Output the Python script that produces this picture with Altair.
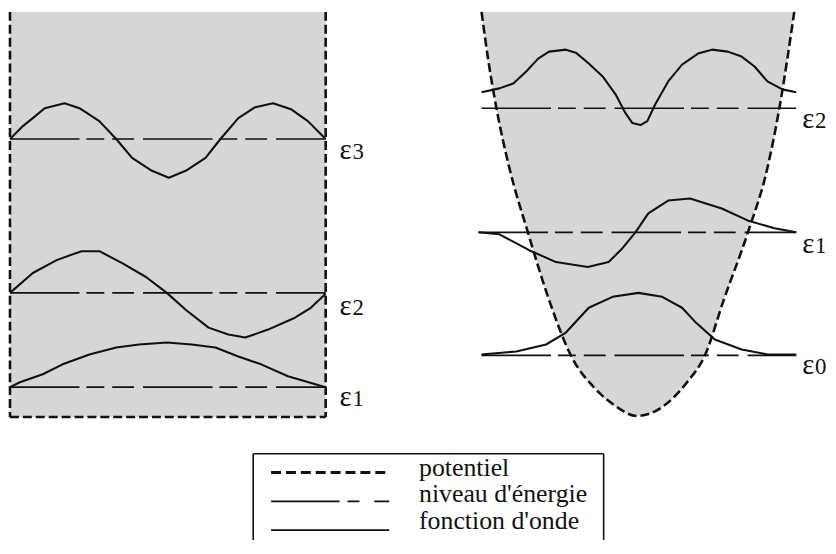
import altair as alt
import pandas as pd

# ---------------- data (figure units) ----------------
# Left panel: infinite square well
well_left, well_right, well_top, well_bottom = 10, 328, 10, 418
well_levels = [388, 293, 138]          # ε1, ε2, ε3
well_level_names = ["1", "2", "3"]

psi3_x = [10, 23, 33, 45, 65, 80, 100, 117, 133, 153, 170, 187, 207, 222, 240, 257, 275, 293, 310, 328]
psi3_y = [138, 125, 117, 107, 102, 107, 120, 138, 157, 170, 177, 170, 157, 138, 117, 106, 102, 108, 120, 138]

psi2_x = [10, 33, 57, 82, 100, 123, 147, 168, 187, 210, 230, 247, 270, 297, 313, 328]
psi2_y = [293, 273, 260, 251, 251, 263, 277, 293, 310, 328, 335, 338, 330, 318, 308, 294]

psi1_x = [10, 20, 43, 63, 90, 117, 140, 168, 193, 217, 240, 263, 290, 328]
psi1_y = [388, 383, 375, 365, 355, 348, 345, 343, 345, 348, 357, 365, 377, 388]

# Right panel: harmonic oscillator
pot_x = [485, 492, 500, 513, 532, 553, 575, 600, 620, 641, 667, 692, 710, 729, 753, 773, 785, 800]
pot_y = [10, 60, 107, 167, 233, 300, 356, 390, 407, 417, 408, 383, 356, 300, 233, 167, 107, 10]

osc_levels = [356, 232, 107]           # ε0, ε1, ε2
osc_level_x0 = [485, 482, 485]
osc_level_x1 = [802, 802, 802]
osc_level_names = ["0", "1", "2"]

phi2_x = [485, 503, 517, 530, 542, 553, 570, 580, 593, 607, 620, 630, 637, 645, 652, 660, 673, 687, 703, 717, 733, 747, 760, 773, 788, 802]
phi2_y = [91, 87, 82, 70, 57, 50, 48, 51, 62, 75, 93, 112, 122, 124, 120, 103, 80, 63, 52, 48, 50, 55, 65, 80, 88, 91]

phi1_x = [482, 503, 533, 560, 592, 613, 627, 640, 653, 673, 695, 727, 753, 780, 802]
phi1_y = [232, 234, 250, 262, 267, 262, 248, 232, 213, 200, 198, 208, 220, 228, 232]

phi0_x = [485, 520, 550, 570, 593, 617, 643, 667, 687, 700, 720, 747, 773, 802]
phi0_y = [355, 352, 345, 333, 308, 297, 293, 297, 308, 322, 340, 350, 355, 355]

# Legend
legend_labels = ["potentiel", "niveau d'énergie", "fonction d'onde"]
legend_rows_y = [474, 503, 532]
legend_text_base = [477, 504, 531]
legend_sample_x = [273, 392]
legend_text_x = 422
legend_box = dict(left=255, right=608, top=455, bottom=542)

# ---------------- scales ----------------
XS = alt.Scale(domain=[8, 834], nice=False, zero=False)
YS = alt.Scale(domain=[8, 542], nice=False, zero=False, reverse=True)

def X(f="x"):
    return alt.X(f"{f}:Q", scale=XS, axis=None)

def Y(f="y"):
    return alt.Y(f"{f}:Q", scale=YS, axis=None)

BLACK = "#111111"
GRAY = "#d6d6d6"
SERIF = "'Liberation Serif', 'Times New Roman', Times, 'DejaVu Serif', serif"

layers = []

# gray fill of the square well
well_df = pd.DataFrame({"x": [well_left], "x2": [well_right], "y": [well_top], "y2": [well_bottom]})
layers.append(alt.Chart(well_df).mark_rect(color=GRAY).encode(
    x=X(), x2="x2:Q", y=Y(), y2="y2:Q"))

# gray fill inside the parabola
pot_df = pd.DataFrame({"x": pot_x, "y": pot_y, "top": [well_top] * len(pot_x)})
layers.append(alt.Chart(pot_df).mark_area(color=GRAY, interpolate="monotone").encode(
    x=X(), y=Y(), y2="top:Q"))

# square well walls (dashed)
walls_df = pd.DataFrame({
    "x": [well_left, well_right, well_left],
    "x2": [well_left, well_right, well_right],
    "y": [well_top, well_top, well_bottom],
    "y2": [well_bottom, well_bottom, well_bottom],
})
layers.append(alt.Chart(walls_df).mark_rule(color=BLACK, strokeWidth=2.6, strokeDash=[9, 4]).encode(
    x=X(), x2="x2:Q", y=Y(), y2="y2:Q"))

# parabola (dashed)
layers.append(alt.Chart(pot_df).mark_line(color=BLACK, strokeWidth=2.6, strokeDash=[9, 4],
                                           interpolate="monotone").encode(x=X(), y=Y()))

# energy levels
lev_df = pd.DataFrame({
    "x": [well_left] * 3 + osc_level_x0,
    "x2": [well_right] * 3 + osc_level_x1,
    "y": well_levels + osc_levels,
})
layers.append(alt.Chart(lev_df).mark_rule(color=BLACK, strokeWidth=1.7,
                                          strokeDash=[70, 7, 18, 8, 22, 9]).encode(
    x=X(), x2="x2:Q", y=Y()))

# wave functions
rows = []
for name, xs, ys in [("psi1", psi1_x, psi1_y), ("psi2", psi2_x, psi2_y), ("psi3", psi3_x, psi3_y),
                     ("phi0", phi0_x, phi0_y), ("phi1", phi1_x, phi1_y), ("phi2", phi2_x, phi2_y)]:
    for i, (a, b) in enumerate(zip(xs, ys)):
        rows.append({"curve": name, "x": a, "y": b, "i": i})
wave_df = pd.DataFrame(rows)
layers.append(alt.Chart(wave_df).mark_line(color=BLACK, strokeWidth=2.1, interpolate="linear",
                                           strokeJoin="round").encode(
    x=X(), y=Y(), detail="curve:N", order="i:Q"))

# level labels
lab_df = pd.DataFrame({
    "x": [342, 342, 342, 808, 808, 808],
    "y": [407, 315, 158, 375, 253, 127],
    "d": well_level_names + osc_level_names,
})
layers.append(alt.Chart(lab_df).mark_text(text="ε", font=SERIF, fontSize=29, align="left",
                                          baseline="alphabetic", color=BLACK).encode(x=X(), y=Y()))
layers.append(alt.Chart(lab_df).mark_text(font=SERIF, fontSize=23, align="left", dx=13,
                                          baseline="alphabetic", color=BLACK).encode(
    x=X(), y=Y(), text="d:N"))

# legend box
box_df = pd.DataFrame({
    "x": [legend_box["left"], legend_box["left"], legend_box["right"]],
    "x2": [legend_box["right"], legend_box["left"], legend_box["right"]],
    "y": [legend_box["top"]] * 3,
    "y2": [legend_box["top"], legend_box["bottom"], legend_box["bottom"]],
})
layers.append(alt.Chart(box_df).mark_rule(color=BLACK, strokeWidth=1.6).encode(
    x=X(), x2="x2:Q", y=Y(), y2="y2:Q"))

# legend samples
def sample(row, **style):
    df = pd.DataFrame({"x": [legend_sample_x[0]], "x2": [legend_sample_x[1]], "y": [legend_rows_y[row]]})
    return alt.Chart(df).mark_rule(color=BLACK, **style).encode(x=X(), x2="x2:Q", y=Y())

layers.append(sample(0, strokeWidth=3, strokeDash=[10, 5]))
layers.append(sample(1, strokeWidth=1.7, strokeDash=[69, 8, 12, 15, 15, 100]))
layers.append(sample(2, strokeWidth=1.7))

leg_df = pd.DataFrame({"x": [legend_text_x] * 3, "y": legend_text_base, "t": legend_labels})
layers.append(alt.Chart(leg_df).mark_text(font=SERIF, fontSize=26, align="left", baseline="alphabetic",
                                          color=BLACK).encode(x=X(), y=Y(), text="t:N"))

chart = alt.layer(*layers).properties(
    width=826, height=534, padding=0, autosize=alt.AutoSizeParams(type="none"),
    background="white",
).configure_view(stroke=None)

chart.save("out.html", embed_options={"renderer": "svg", "actions": False})
